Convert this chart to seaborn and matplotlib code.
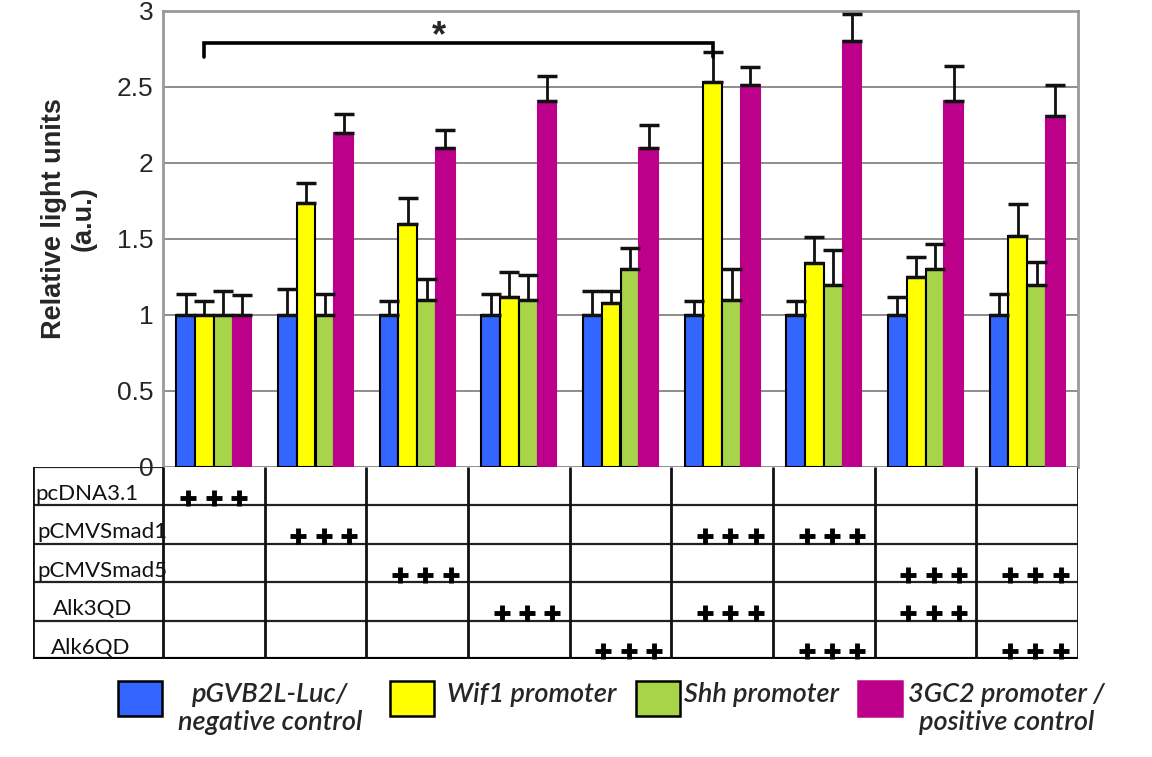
"""
Luciferase reporter assay: relative light units for four promoter
constructs under different co-transfections, with a +/- table below.
"""

import numpy as np
import pandas as pd
import matplotlib.pyplot as plt
import seaborn as sns
from matplotlib.patches import Rectangle

# ----------------------------------------------------------------
# Data
# ----------------------------------------------------------------
groups = ["G1", "G2", "G3", "G4", "G5", "G6", "G7", "G8", "G9"]
series = ["pGVB2L-Luc/\nnegative control", "Wif1 promoter",
          "Shh promoter", "3GC2 promoter /\npositive control"]
colors = ["#3366FF", "#FFFF00", "#A8D44A", "#BC008A"]

neg_ctrl = [1.00, 1.00, 1.00, 1.00, 1.00, 1.00, 1.00, 1.00, 1.00]
wif1 = [1.00, 1.74, 1.60, 1.12, 1.08, 2.53, 1.34, 1.25, 1.52]
shh = [1.00, 1.00, 1.10, 1.10, 1.30, 1.10, 1.20, 1.30, 1.20]
gc2 = [1.00, 2.20, 2.10, 2.41, 2.10, 2.51, 2.80, 2.41, 2.31]

neg_err = [0.14, 0.17, 0.09, 0.14, 0.16, 0.09, 0.09, 0.12, 0.14]
wif1_err = [0.09, 0.13, 0.17, 0.16, 0.08, 0.20, 0.17, 0.13, 0.21]
shh_err = [0.16, 0.14, 0.14, 0.16, 0.14, 0.20, 0.23, 0.17, 0.15]
gc2_err = [0.13, 0.12, 0.12, 0.16, 0.15, 0.12, 0.18, 0.23, 0.20]

# co-transfection table
row_labels = ["pcDNA3.1", "pCMVSmad1", "pCMVSmad5", "Alk3QD", "Alk6QD"]
transfected = [["pcDNA3.1"], ["pCMVSmad1"], ["pCMVSmad5"], ["Alk3QD"], ["Alk6QD"],
               ["pCMVSmad1", "Alk3QD"], ["pCMVSmad1", "Alk6QD"],
               ["pCMVSmad5", "Alk3QD"], ["pCMVSmad5", "Alk6QD"]]

values = [neg_ctrl, wif1, shh, gc2]
errors = [neg_err, wif1_err, shh_err, gc2_err]

df = pd.DataFrame({
    "group": np.tile(groups, len(series)),
    "series": np.repeat(series, len(groups)),
    "value": np.concatenate(values),
})

# ----------------------------------------------------------------
# Figure
# ----------------------------------------------------------------
sns.set_style("white")
plt.rcParams["font.family"] = ["Liberation Sans", "DejaVu Sans"]

W, H = 1152, 757
fig = plt.figure(figsize=(W / 100, H / 100), dpi=100)

def px_box(x0, y0, x1, y1):
    return [x0 / W, 1 - y1 / H, (x1 - x0) / W, (y1 - y0) / H]

ax = fig.add_axes(px_box(163, 11, 1078, 467))

sns.barplot(data=df, x="group", y="value", hue="series", order=groups,
            hue_order=series, palette=colors, saturation=1, width=0.74,
            edgecolor="black", linewidth=1.5, legend=False, ax=ax, zorder=2)
bar_sets = list(ax.containers)

# magenta bars carry no black outline
for bar in bar_sets[3]:
    bar.set_edgecolor(colors[3])

# upward-only error bars, placed on the bars seaborn drew
centers = []
for k, cont in enumerate(bar_sets):
    xs = [b.get_x() + b.get_width() / 2 for b in cont]
    ys = [b.get_height() for b in cont]
    centers.append(xs)
    ax.errorbar(xs, ys, yerr=[np.zeros(len(xs)), errors[k]], fmt="none",
                ecolor="#111111", elinewidth=2, capsize=7, capthick=2.5, zorder=3)

ax.set_xlim(-0.5, len(groups) - 0.5)
ax.set_ylim(0, 3)
ax.set_yticks(np.arange(0, 3.01, 0.5))
ax.set_yticklabels(["0", "0.5", "1", "1.5", "2", "2.5", "3"])
ax.tick_params(axis="y", labelsize=19, length=6, color="#888888", pad=1)
ax.set_xticks([])
ax.set_xlabel("")
ax.grid(axis="y", color="#7a7a7a", linewidth=1.2, zorder=0)
ax.set_axisbelow(True)
for side in ["top", "right", "left"]:
    ax.spines[side].set_color("#999999")
    ax.spines[side].set_linewidth(2)
ax.spines["bottom"].set_visible(False)

ax.set_ylabel("Relative light units\n(a.u.)", fontsize=19.5, fontweight="bold",
              linespacing=1.15)
ax.yaxis.set_label_coords(-0.073, 0.545)

# significance bracket between Wif1 bars of group 1 and group 6
xa, xb = centers[1][0], centers[1][5]
ax.plot([xa, xa, xb, xb], [2.70, 2.79, 2.79, 2.70], color="black", lw=2.6,
        solid_joinstyle="miter", clip_on=False, zorder=4)
ax.text((xa + xb) / 2 - 0.19, 2.83, "*", ha="center", va="center",
        fontsize=26, fontweight="bold")

# ----------------------------------------------------------------
# Co-transfection table under the bars
# ----------------------------------------------------------------
tab = fig.add_axes(px_box(33, 467, 1078, 659))
unit = (1078 - 163) / len(groups)
x_left = -0.5 - (163 - 33) / unit
tab.set_xlim(x_left, len(groups) - 0.5)
tab.set_ylim(len(row_labels), 0)
tab.axis("off")

tab.hlines(range(1, len(row_labels)), x_left, len(groups) - 0.5,
           color="#222222", lw=1.6)
tab.hlines(0, x_left, -0.5, color="#222222", lw=1.6)
tab.hlines(len(row_labels), x_left, len(groups) - 0.5, color="black", lw=3)
tab.vlines([x_left] + [i - 0.5 for i in range(len(groups) + 1)], 0,
           len(row_labels), color="#111111", lw=2)

label_indent = [2, 4, 4, 20, 18]   # px from the table's left edge
for r, lab in enumerate(row_labels):
    tab.text(x_left + label_indent[r] / unit, r + 0.86, lab, ha="left",
             va="baseline", fontsize=16, family=["Lato", "DejaVu Sans"],
             color="#111111")

plus_offsets = np.array([-0.25, 0.0, 0.25])
for g, rows in enumerate(transfected):
    shift = 0.0 if g == 0 else 0.08
    for lab in rows:
        r = row_labels.index(lab)
        tab.plot(g + shift + plus_offsets, [r + 0.8] * 3, ls="none",
                 marker="+", ms=12, mew=3.5, color="black", clip_on=False)

# ----------------------------------------------------------------
# Legend (boxes aligned to the first text line, as in the original)
# ----------------------------------------------------------------
box_left = [118, 390, 636, 858]
text_left = [178, 447, 684, 908]
for i, lab in enumerate(series):
    x0, y0 = box_left[i], 681
    fig.add_artist(Rectangle((x0 / W, 1 - (y0 + 35) / H), 44 / W, 35 / H,
                             transform=fig.transFigure, facecolor=colors[i],
                             edgecolor="black" if i < 3 else colors[i],
                             linewidth=1.8))
    fig.text(text_left[i] / W, 1 - 682 / H, lab, ha="left", va="top",
             multialignment="center", fontsize=19.5, style="italic",
             weight="semibold", family=["Lato", "DejaVu Sans"],
             linespacing=1.15)

fig.savefig("out.png", dpi=100)
